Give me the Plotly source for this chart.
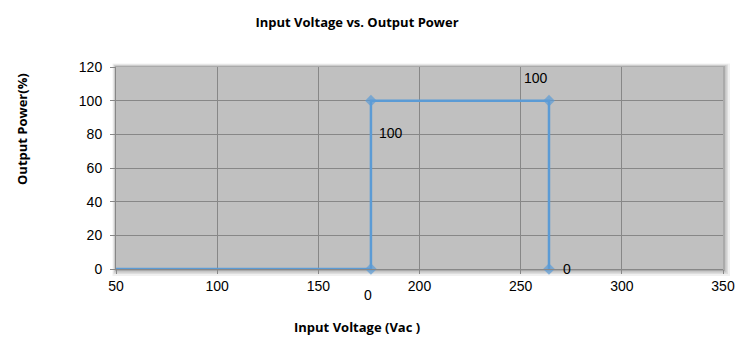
import plotly.graph_objects as go

# Data
voltage = [50, 176, 176, 264, 264]
power = [0, 0, 100, 100, 0]
show_marker = [False, True, True, True, True]
label_text = ["", "0", "100", "100", "0"]

x_ticks = [50, 100, 150, 200, 250, 300, 350]
y_ticks = [0, 20, 40, 60, 80, 100, 120]

W, H = 752, 353
L, R, T, B = 116, 29, 67, 84

line_col = "#5b9bd5"

fig = go.Figure()
fig.add_trace(go.Scatter(
    x=voltage, y=power, mode="lines+markers",
    line=dict(color=line_col, width=2.5),
    marker=dict(symbol="diamond", size=[9 if s else 0 for s in show_marker], color=line_col,
                line=dict(width=0, color=line_col)),
    cliponaxis=False, hoverinfo="x+y", showlegend=False,
))

# label offsets (pixels) in Excel-like custom positions
shifts = [(0, 0), (-3, -26), (20, -32), (-13, 23), (18, 0)]
for xv, yv, t, (dx, dy) in zip(voltage, power, label_text, shifts):
    if t:
        fig.add_annotation(x=xv, y=yv, text=t, showarrow=False, xshift=dx, yshift=dy,
                           font=dict(family="Liberation Sans, Arial, sans-serif", size=14, color="#000"))

pw = W - L - R
ph = H - T - B
# shadow layers (paper coords)
shapes = []
for i, (op, g) in enumerate([(0.06, 7), (0.08, 5), (0.10, 3.5), (0.14, 2)]):
    shapes.append(dict(type="rect", xref="paper", yref="paper", layer="below",
                       x0=-(g * 0.5) / pw, x1=1 + g / pw, y0=-g / ph, y1=1 + (g * 0.5) / ph,
                       fillcolor=f"rgba(0,0,0,{op})", line=dict(width=0)))
shapes.append(dict(type="rect", xref="paper", yref="paper", layer="below",
                   x0=0, x1=1, y0=0, y1=1, fillcolor="#c0c0c0", line=dict(width=0)))

tick_font = dict(family="Liberation Sans, Arial, sans-serif", size=14, color="#000")
bold_font = "Liberation Sans Narrow, Arial Narrow, Open Sans, sans-serif"

fig.update_layout(
    width=W, height=H,
    margin=dict(l=L, r=R, t=T, b=B),
    paper_bgcolor="white", plot_bgcolor="rgba(0,0,0,0)",
    shapes=shapes,
    title=dict(text="<b>Input Voltage vs. Output Power</b>", x=357 / W, xanchor="center",
               xref="container", y=1 - 22 / H, yanchor="middle",
               font=dict(family=bold_font, size=13, color="#000")),
    xaxis=dict(range=[50, 350], tickvals=x_ticks, ticktext=[str(v) for v in x_ticks],
               showgrid=True, gridcolor="#878787", gridwidth=1, zeroline=False,
               showline=True, linecolor="#878787", ticks="outside", ticklen=4, tickcolor="#878787",
               tickfont=tick_font, fixedrange=True),
    yaxis=dict(range=[0, 120], tickvals=y_ticks, ticktext=[str(v) for v in y_ticks],
               showgrid=True, gridcolor="#878787", gridwidth=1, zeroline=False,
               showline=True, linecolor="#878787", ticks="outside", ticklen=5, tickcolor="#878787",
               ticklabelstandoff=5,
               tickfont=tick_font, fixedrange=True),
)

fig.add_annotation(xref="paper", yref="paper", x=(357 - L) / pw, y=(H - B - 327) / ph,
                   text="<b>Input Voltage (Vac )</b>", showarrow=False, xanchor="center", yanchor="middle",
                   font=dict(family=bold_font, size=13, color="#000"))
fig.add_annotation(xref="paper", yref="paper", x=(22 - L) / pw, y=(H - B - 129) / ph,
                   text="<b>Output Power(%)</b>", showarrow=False, textangle=-90,
                   xanchor="center", yanchor="middle",
                   font=dict(family=bold_font, size=13, color="#000"))

fig.write_html("out.html")
